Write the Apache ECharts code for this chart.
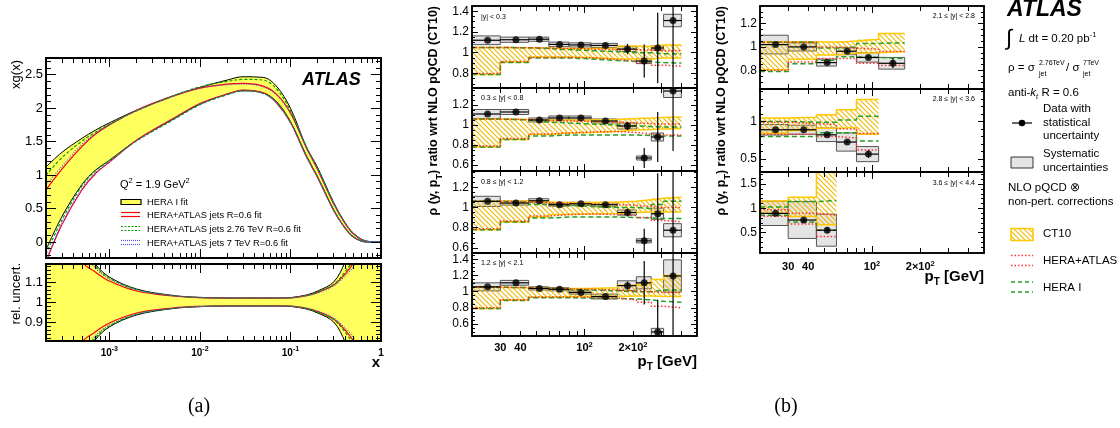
<!DOCTYPE html>
<html>
<head>
<meta charset="utf-8">
<title>ATLAS xg(x) and jet cross-section ratio</title>
<script src="https://cdn.jsdelivr.net/npm/echarts@6.0.0/dist/echarts.min.js"></script>
<style>
  html, body { margin: 0; padding: 0; background: #fff; }
  #chart { width: 1120px; height: 428px; }
</style>
</head>
<body>
<div id="chart"></div>
<script>
// ---------- (a) gluon density at Q2 = 1.9 GeV2 ----------
const xs      = [2e-4, 3e-4, 5e-4, 7e-4, 1e-3, 2e-3, 5e-3, 1e-2, 2e-2, 3e-2, 5e-2, 7e-2, 0.1, 0.15, 0.2, 0.3, 0.4, 0.5, 0.7, 1];
const heraUp  = [1.12, 1.34, 1.55, 1.67, 1.78, 1.97, 2.18, 2.31, 2.42, 2.47, 2.46, 2.33, 2.0, 1.42, 1.11, 0.59, 0.29, 0.12, 0.01, 0];
const heraLo  = [-0.12, 0.38, 0.86, 1.07, 1.22, 1.52, 1.83, 2.06, 2.21, 2.26, 2.23, 2.1, 1.8, 1.29, 0.97, 0.48, 0.21, 0.07, 0.0, 0];
const jetsUp  = [0.78, 1.09, 1.43, 1.61, 1.75, 1.97, 2.18, 2.30, 2.36, 2.37, 2.33, 2.21, 1.93, 1.41, 1.08, 0.57, 0.28, 0.12, 0.01, 0];
const jetsLo  = [-0.3, 0.26, 0.78, 1.02, 1.19, 1.52, 1.84, 2.07, 2.21, 2.27, 2.23, 2.08, 1.79, 1.28, 0.96, 0.47, 0.21, 0.07, 0.0, 0];
const j276Up  = [1.0, 1.26, 1.51, 1.64, 1.76, 1.96, 2.18, 2.32, 2.40, 2.43, 2.42, 2.29, 1.96, 1.42, 1.1, 0.58, 0.29, 0.12, 0.01, 0];
const j276Lo  = [-0.18, 0.33, 0.84, 1.06, 1.21, 1.51, 1.82, 2.05, 2.2, 2.26, 2.22, 2.09, 1.79, 1.28, 0.97, 0.48, 0.21, 0.07, 0, 0];
const j7Up    = [0.85, 1.13, 1.46, 1.62, 1.75, 1.96, 2.17, 2.30, 2.35, 2.36, 2.32, 2.2, 1.92, 1.41, 1.08, 0.57, 0.28, 0.12, 0.01, 0];
const j7Lo    = [-0.28, 0.28, 0.8, 1.03, 1.2, 1.52, 1.84, 2.06, 2.21, 2.27, 2.22, 2.08, 1.78, 1.27, 0.96, 0.47, 0.21, 0.07, 0, 0];
// relative uncertainties
const relHeraUp = [1.9, 1.55, 1.3, 1.19, 1.125, 1.065, 1.033, 1.023, 1.02, 1.02, 1.02, 1.02, 1.022, 1.035, 1.055, 1.1, 1.2, 1.35, 1.7, 2.0];
const relHeraLo = [0.1, 0.45, 0.7, 0.81, 0.875, 0.935, 0.967, 0.977, 0.98, 0.98, 0.98, 0.98, 0.978, 0.965, 0.945, 0.9, 0.8, 0.65, 0.3, 0.0];
const relJetsUp = [1.7, 1.4, 1.2, 1.15, 1.105, 1.055, 1.03, 1.022, 1.02, 1.02, 1.02, 1.02, 1.021, 1.032, 1.048, 1.085, 1.14, 1.2, 1.4, 1.6];
const relJetsLo = [0.3, 0.6, 0.8, 0.85, 0.895, 0.945, 0.97, 0.978, 0.98, 0.98, 0.98, 0.98, 0.979, 0.968, 0.952, 0.915, 0.86, 0.8, 0.6, 0.4];
const rel276Up  = [1.85, 1.52, 1.28, 1.18, 1.12, 1.062, 1.032, 1.023, 1.02, 1.02, 1.02, 1.02, 1.021, 1.033, 1.05, 1.088, 1.15, 1.22, 1.45, 1.7];
const rel276Lo  = [0.15, 0.48, 0.72, 0.82, 0.88, 0.938, 0.968, 0.977, 0.98, 0.98, 0.98, 0.98, 0.979, 0.967, 0.95, 0.912, 0.85, 0.78, 0.55, 0.3];
const rel7Up    = [1.8, 1.48, 1.25, 1.17, 1.115, 1.06, 1.031, 1.022, 1.02, 1.02, 1.02, 1.02, 1.021, 1.03, 1.045, 1.08, 1.13, 1.18, 1.35, 1.55];
const rel7Lo    = [0.2, 0.52, 0.75, 0.83, 0.885, 0.94, 0.969, 0.978, 0.98, 0.98, 0.98, 0.98, 0.979, 0.97, 0.955, 0.92, 0.87, 0.82, 0.65, 0.45];

// ---------- (b) ratio 2.76 TeV / 7 TeV ----------
const ptEdges   = [20, 30, 45, 60, 80, 110, 160, 210, 260, 310, 400];
const ptCenters = [25, 37.5, 52.5, 70, 95, 135, 185, 235, 285, 355];

// |y| < 0.3
const m1Val  = [1.12, 1.125, 1.13, 1.08, 1.075, 1.07, 1.035, 0.92, 1.045, 1.31];
const m1Stat = [0.006, 0.006, 0.006, 0.006, 0.007, 0.01, 0.05, 0.16, 0.34, 0.7];
const m1Syst = [0.042, 0.025, 0.02, 0.022, 0.02, 0.02, 0.024, 0.025, 0.02, 0.06];
const m1CtUp = [1.05, 1.048, 1.045, 1.04, 1.04, 1.045, 1.065, 1.06, 1.075, 1.075];
const m1CtLo = [0.79, 0.91, 0.958, 0.958, 0.955, 0.94, 0.94, 0.94, 0.95, 0.95];
const m1HaUp = [1.05, 1.048, 1.045, 1.04, 1.035, 1.03, 1.03, 1.025, 1.02, 1.02];
const m1HaLo = [0.80, 0.915, 0.955, 0.955, 0.95, 0.935, 0.92, 0.9, 0.88, 0.87];
const m1H1Up = [1.05, 1.048, 1.04, 1.03, 1.02, 1.01, 1.0, 1.0, 0.99, 0.99];
const m1H1Lo = [0.79, 0.905, 0.95, 0.95, 0.94, 0.925, 0.915, 0.91, 0.905, 0.90];
// 0.3 <= |y| < 0.8
const m2Val  = [1.11, 1.13, 1.05, 1.07, 1.07, 1.04, 0.99, 0.67, 0.88, 1.34];
const m2Stat = [0.006, 0.006, 0.006, 0.006, 0.007, 0.01, 0.04, 0.1, 0.25, 0.6];
const m2Syst = [0.045, 0.025, 0.02, 0.02, 0.02, 0.02, 0.03, 0.02, 0.04, 0.065];
const m2CtUp = [1.06, 1.055, 1.05, 1.05, 1.05, 1.055, 1.065, 1.07, 1.075, 1.08];
const m2CtLo = [0.78, 0.855, 0.905, 0.92, 0.925, 0.935, 0.95, 0.955, 0.96, 0.965];
const m2HaUp = [1.06, 1.055, 1.045, 1.04, 1.035, 1.03, 1.02, 1.015, 1.01, 1.01];
const m2HaLo = [0.79, 0.865, 0.91, 0.92, 0.93, 0.935, 0.925, 0.91, 0.9, 0.9];
const m2H1Up = [1.06, 1.05, 1.03, 1.02, 1.01, 1.0, 0.99, 0.985, 0.98, 0.98];
const m2H1Lo = [0.78, 0.855, 0.89, 0.9, 0.9, 0.9, 0.9, 0.895, 0.89, 0.89];
// 0.8 <= |y| < 1.2
const m3Val  = [1.06, 1.043, 1.066, 1.027, 1.036, 1.027, 0.95, 0.67, 0.938, 0.775];
const m3Stat = [0.006, 0.006, 0.006, 0.006, 0.007, 0.01, 0.04, 0.12, 0.4, 0.8];
const m3Syst = [0.05, 0.02, 0.02, 0.015, 0.015, 0.02, 0.025, 0.02, 0.055, 0.065];
const m3CtUp = [1.06, 1.06, 1.055, 1.05, 1.05, 1.055, 1.06, 1.075, 1.09, 1.10];
const m3CtLo = [0.78, 0.855, 0.905, 0.93, 0.935, 0.94, 0.95, 0.955, 0.955, 0.955];
const m3HaUp = [1.06, 1.055, 1.045, 1.04, 1.035, 1.03, 1.02, 1.01, 1.0, 1.0];
const m3HaLo = [0.79, 0.865, 0.915, 0.93, 0.935, 0.93, 0.92, 0.9, 0.87, 0.86];
const m3H1Up = [1.06, 1.05, 1.03, 1.02, 1.01, 1.0, 1.0, 0.99, 1.03, 1.06];
const m3H1Lo = [0.78, 0.855, 0.895, 0.905, 0.905, 0.905, 0.90, 0.895, 0.89, 0.89];
// 1.2 <= |y| < 2.1
const m4Val  = [1.06, 1.11, 1.04, 1.03, 0.99, 0.94, 1.075, 1.11, 0.5, 1.195];
const m4Stat = [0.006, 0.006, 0.006, 0.006, 0.007, 0.01, 0.05, 0.27, 0.4, 1.0];
const m4Syst = [0.05, 0.03, 0.02, 0.02, 0.02, 0.03, 0.06, 0.075, 0.045, 0.2];
const m4CtUp = [1.055, 1.05, 1.04, 1.04, 1.04, 1.05, 1.08, 1.1, 1.15, 1.2];
const m4CtLo = [0.79, 0.895, 0.93, 0.94, 0.94, 0.94, 0.945, 0.945, 0.94, 0.94];
const m4HaUp = [1.055, 1.05, 1.04, 1.035, 1.03, 1.02, 1.01, 1.0, 0.99, 0.99];
const m4HaLo = [0.8, 0.9, 0.935, 0.935, 0.93, 0.92, 0.9, 0.87, 0.82, 0.8];
const m4H1Up = [1.055, 1.05, 1.04, 1.03, 1.02, 1.01, 1.0, 1.0, 1.02, 1.02];
const m4H1Lo = [0.79, 0.89, 0.925, 0.925, 0.92, 0.915, 0.91, 0.9, 0.88, 0.87];
// 2.1 <= |y| < 2.8
const r1Val  = [1.02, 1.0, 0.866, 0.963, 0.91, 0.86];
const r1Stat = [0.006, 0.006, 0.01, 0.01, 0.015, 0.04];
const r1Syst = [0.08, 0.035, 0.03, 0.03, 0.04, 0.05];
const r1CtUp = [1.045, 1.045, 1.04, 1.05, 1.065, 1.115];
const r1CtLo = [0.805, 0.895, 0.93, 0.945, 0.95, 0.96];
const r1HaUp = [1.04, 1.04, 1.0, 0.99, 0.98, 0.96];
const r1HaLo = [0.80, 0.87, 0.9, 0.9, 0.86, 0.84];
const r1H1Up = [1.04, 1.04, 0.99, 1.0, 1.03, 1.035];
const r1H1Lo = [0.79, 0.855, 0.885, 0.915, 0.91, 0.9];
// 2.8 <= |y| < 3.6
const r2Val  = [0.89, 0.89, 0.823, 0.727, 0.567];
const r2Stat = [0.01, 0.01, 0.015, 0.02, 0.05];
const r2Syst = [0.07, 0.06, 0.09, 0.12, 0.1];
const r2CtUp = [1.045, 1.055, 1.09, 1.155, 1.29];
const r2CtLo = [0.845, 0.88, 0.91, 0.92, 0.83];
const r2HaUp = [0.99, 0.97, 0.96, 0.9, 0.84];
const r2HaLo = [0.83, 0.83, 0.8, 0.78, 0.62];
const r2H1Up = [1.0, 0.99, 0.99, 1.02, 1.07];
const r2H1Lo = [0.8, 0.8, 0.85, 0.85, 0.74];
// 3.6 <= |y| < 4.4
const r3Val  = [0.897, 0.76, 0.55];
const r3Stat = [0.02, 0.03, 0.06];
const r3Syst = [0.25, 0.38, 0.33];
const r3CtUp = [1.15, 1.23, 1.9];
const r3CtLo = [0.9, 0.83, 0.66];
const r3HaUp = [0.97, 0.9, 0.86];
const r3HaLo = [0.84, 0.68, 0.42];
const r3H1Up = [1.03, 1.14, 1.16];
const r3H1Lo = [0.86, 0.72, 0.55];

// tick labels
const aXLabels = [1e-3, 1e-2, 0.1, 1];
const bXLabels = [30, 40, 100, 200];
const bXNames  = {30: '30', 40: '40', 100: '10{s|2}', 200: '2×10{s|2}'};

// ---------- helpers ----------
const FONT = '"Liberation Sans", Arial, Helvetica, sans-serif';
const SM = 0.35;

function ticksBetween(a, b, step) {
  const t = [];
  for (let v = a; v <= b + 1e-9; v += step) t.push(+v.toFixed(4));
  return t;
}
function logMinors(d0, d1) {
  const t = [];
  for (let d = d0; d < d1; d++) for (let k = 2; k <= 9; k++) t.push(+(k * Math.pow(10, d)).toPrecision(3));
  return t;
}

function makeHatch() {
  const c = document.createElement('canvas');
  c.width = 5; c.height = 5;
  const g = c.getContext('2d');
  g.strokeStyle = '#f0b800';
  g.lineWidth = 1.1;
  g.beginPath();
  g.moveTo(0, 0); g.lineTo(5, 5);
  g.moveTo(-2.5, 2.5); g.lineTo(2.5, 7.5);
  g.moveTo(2.5, -2.5); g.lineTo(7.5, 2.5);
  g.stroke();
  return c;
}
const hatchFill = {image: makeHatch(), repeat: 'repeat'};

const grids = [
  {left: 46, top: 58, width: 335, height: 200},
  {left: 46, top: 264, width: 335, height: 77},
  {left: 472, top: 6, width: 225, height: 82},
  {left: 472, top: 88, width: 225, height: 83},
  {left: 472, top: 171, width: 225, height: 82},
  {left: 472, top: 253, width: 225, height: 83},
  {left: 760, top: 6, width: 224, height: 83},
  {left: 760, top: 89, width: 224, height: 83},
  {left: 760, top: 172, width: 224, height: 81}
].map(g => Object.assign({containLabel: false, outerBoundsMode: 'none'}, g));

const xAxes = [], yAxes = [], series = [];

function axis(list, g, c, pos, ticks, len, withLabels) {
  const a = {
    gridIndex: g, type: c.type, min: c.min, max: c.max, position: pos, z: 10,
    axisLine: {show: true, onZero: false, lineStyle: {color: '#000', width: c.frame || 1.5}},
    splitLine: {show: false},
    axisTick: {show: ticks.length > 0, inside: true, length: len, customValues: ticks,
               lineStyle: {color: '#000', width: 1}},
    axisLabel: {show: false}
  };
  if (c.type === 'log') a.logBase = 10;
  if (withLabels && c.labels) {
    a.axisLabel = Object.assign({show: true, customValues: c.labels, color: '#000', fontFamily: FONT}, c.labelStyle);
  }
  list.push(a);
  return list.length - 1;
}

function panel(g, xc, yc) {
  const xi = axis(xAxes, g, xc, 'bottom', xc.major, xc.majorLen, true);
  axis(xAxes, g, xc, 'bottom', xc.minor, xc.minorLen, false);
  axis(xAxes, g, xc, 'top', xc.major, xc.majorLen, false);
  axis(xAxes, g, xc, 'top', xc.minor, xc.minorLen, false);
  const yi = axis(yAxes, g, yc, 'left', yc.major, yc.majorLen, true);
  axis(yAxes, g, yc, 'left', yc.minor, yc.minorLen, false);
  axis(yAxes, g, yc, 'right', yc.major, yc.majorLen, false);
  axis(yAxes, g, yc, 'right', yc.minor, yc.minorLen, false);
  return {xi, yi, ymin: yc.min, ymax: yc.max};
}

// ---------- axes ----------
const xA = {type: 'log', min: 2e-4, max: 1, major: [1e-3, 1e-2, 0.1], minor: logMinors(-4, 0).filter(v => v > 2e-4),
            majorLen: 9, minorLen: 5, frame: 1.8};
const xAlab = Object.assign({}, xA, {
  labels: aXLabels,
  labelStyle: {
    fontSize: 10, fontWeight: 'bold', margin: 5, lineHeight: 14,
    formatter: v => v > 0.99 ? '1' : '10{s|' + Math.round(Math.log10(v)) + '}',
    rich: {s: {fontSize: 7, fontWeight: 'bold', fontFamily: FONT, verticalAlign: 'top', lineHeight: 8}}
  }
});
const xB = {type: 'log', min: 20, max: 500, major: [100], minor: [30, 40, 50, 60, 70, 80, 90, 200, 300, 400],
            majorLen: 7, minorLen: 5};
function xBlab(margin) {
  return Object.assign({}, xB, {
    labels: bXLabels,
    labelStyle: {
      fontSize: 11, fontWeight: 'bold', margin: margin, lineHeight: 14,
      formatter: v => bXNames[Math.round(v)],
      rich: {s: {fontSize: 7.5, fontWeight: 'bold', fontFamily: FONT, verticalAlign: 'top', lineHeight: 8}}
    }
  });
}
function yc(min, max, major, step, mLen, nLen, fs, frame) {
  return {type: 'value', min, max, major, minor: ticksBetween(Math.ceil(min / step) * step, max, step),
          majorLen: mLen, minorLen: nLen, labels: major, frame: frame,
          labelStyle: {fontSize: fs, margin: 3}};
}

const PA = panel(0, xA, yc(-0.24, 2.75, [0, 0.5, 1, 1.5, 2, 2.5], 0.1, 10, 5, 13, 1.8));
const PB = panel(1, xAlab, yc(0.805, 1.19, [0.9, 1, 1.1], 0.02, 10, 5, 13, 1.8));
const M1 = panel(2, xB, yc(0.66, 1.45, [0.8, 1, 1.2, 1.4], 0.05, 6, 3, 12));
const M2 = panel(3, xB, yc(0.54, 1.37, [0.6, 0.8, 1, 1.2], 0.05, 6, 3, 12));
const M3 = panel(4, xB, yc(0.55, 1.36, [0.6, 0.8, 1, 1.2], 0.05, 6, 3, 12));
const M4 = panel(5, xBlab(5), yc(0.45, 1.48, [0.6, 0.8, 1, 1.2, 1.4], 0.05, 6, 3, 12));
const R1 = panel(6, xB, yc(0.64, 1.35, [0.8, 1, 1.2], 0.05, 6, 3, 12));
const R2 = panel(7, xB, yc(0.33, 1.43, [0.5, 1], 0.1, 6, 3, 12));
const R3 = panel(8, xBlab(7), yc(0.08, 1.75, [0.5, 1, 1.5], 0.1, 6, 3, 12));

// ---------- (a) series ----------
// yellow band: fill below the upper edge, then blank out below the lower edge
function fillTo(p, ys, color, z) {
  series.push({type: 'line', xAxisIndex: p.xi, yAxisIndex: p.yi,
    data: xs.map((x, i) => [x, ys[i]]), symbol: 'none', smooth: SM, silent: true,
    lineStyle: {opacity: 0}, areaStyle: {color: color, opacity: 1, origin: 'start'}, z: z});
}
function curve(p, ys, color, width, dash, z) {
  series.push({type: 'line', xAxisIndex: p.xi, yAxisIndex: p.yi,
    data: xs.map((x, i) => [x, ys[i]]), symbol: 'none', smooth: SM, silent: true,
    lineStyle: {color: color, width: width, type: dash}, z: z});
}
function pdfPanel(p, hu, hl, ju, jl, gu, gl, bu, bl) {
  fillTo(p, hu, '#ffff5e', 1);
  fillTo(p, hl, '#ffffff', 2);
  curve(p, hu, '#000', 1, 'solid', 3);
  curve(p, hl, '#000', 1, 'solid', 3);
  curve(p, ju, '#ff0000', 1.2, 'solid', 4);
  curve(p, jl, '#ff0000', 1.2, 'solid', 4);
  curve(p, gu, '#00a000', 1.2, [3, 2], 5);
  curve(p, gl, '#00a000', 1.2, [3, 2], 5);
  curve(p, bu, '#5050ff', 1.2, [1, 1.5], 6);
  curve(p, bl, '#5050ff', 1.2, [1, 1.5], 6);
}
pdfPanel(PA, heraUp, heraLo, jetsUp, jetsLo, j276Up, j276Lo, j7Up, j7Lo);
pdfPanel(PB, relHeraUp, relHeraLo, relJetsUp, relJetsLo, rel276Up, rel276Lo, rel7Up, rel7Lo);

// ---------- (b) series ----------
function clampTo(p) { return v => Math.max(p.ymin, Math.min(p.ymax, v)); }
function rectItem(p, style) {
  const cl = clampTo(p);
  return function (params, api) {
    const a = api.coord([api.value(0), cl(api.value(3))]);
    const b = api.coord([api.value(1), cl(api.value(2))]);
    return {type: 'rect', shape: {x: a[0], y: a[1], width: b[0] - a[0], height: b[1] - a[1]}, style: style};
  };
}
function errItem(p) {
  const cl = clampTo(p);
  return function (params, api) {
    const x = api.value(0), v = api.value(1), s = api.value(2);
    const h0 = api.coord([api.value(3), v]), h1 = api.coord([api.value(4), v]);
    const v0 = api.coord([x, cl(v - s)]), v1 = api.coord([x, cl(v + s)]);
    return {type: 'group', children: [
      {type: 'line', shape: {x1: h0[0], y1: h0[1], x2: h1[0], y2: h1[1]}, style: {stroke: '#000', lineWidth: 1.2}},
      {type: 'line', shape: {x1: v0[0], y1: v0[1], x2: v1[0], y2: v1[1]}, style: {stroke: '#000', lineWidth: 1.2}}
    ]};
  };
}
function stepLine(p, e, vals, color, width, dash, z) {
  const d = vals.map((v, i) => [e[i], v]);
  d.push([e[vals.length], vals[vals.length - 1]]);
  series.push({type: 'line', xAxisIndex: p.xi, yAxisIndex: p.yi, data: d, step: 'end', symbol: 'none',
    silent: true, lineStyle: {color: color, width: width, type: dash}, z: z});
}
function ratioRow(p, val, stat, syst, ctUp, ctLo, haUp, haLo, h1Up, h1Lo) {
  const n = val.length;
  const e = ptEdges.slice(0, n + 1), c = ptCenters.slice(0, n);
  series.push({type: 'custom', xAxisIndex: p.xi, yAxisIndex: p.yi, silent: true, z: 2,
    data: val.map((v, i) => [e[i], e[i + 1], v - syst[i], v + syst[i]]),
    renderItem: rectItem(p, {fill: '#e4e4e4', stroke: '#555', lineWidth: 1})});
  series.push({type: 'custom', xAxisIndex: p.xi, yAxisIndex: p.yi, silent: true, z: 3,
    data: ctUp.map((u, i) => [e[i], e[i + 1], ctLo[i], u]),
    renderItem: rectItem(p, {fill: hatchFill})});
  stepLine(p, e, ctUp, '#ffc800', 1.5, 'solid', 4);
  stepLine(p, e, ctLo, '#ffc800', 1.5, 'solid', 4);
  stepLine(p, e, h1Up, '#22a022', 1.5, [5, 3], 5);
  stepLine(p, e, h1Lo, '#22a022', 1.5, [5, 3], 5);
  stepLine(p, e, haUp, '#ff3030', 1.5, [1.5, 2], 5);
  stepLine(p, e, haLo, '#ff3030', 1.5, [1.5, 2], 5);
  series.push({type: 'custom', xAxisIndex: p.xi, yAxisIndex: p.yi, silent: true, z: 6,
    data: val.map((v, i) => [c[i], v, stat[i], e[i], e[i + 1]]), renderItem: errItem(p)});
  series.push({type: 'scatter', xAxisIndex: p.xi, yAxisIndex: p.yi, silent: true, z: 7,
    data: val.map((v, i) => [c[i], v]), symbolSize: 7, itemStyle: {color: '#000'}});
}
ratioRow(M1, m1Val, m1Stat, m1Syst, m1CtUp, m1CtLo, m1HaUp, m1HaLo, m1H1Up, m1H1Lo);
ratioRow(M2, m2Val, m2Stat, m2Syst, m2CtUp, m2CtLo, m2HaUp, m2HaLo, m2H1Up, m2H1Lo);
ratioRow(M3, m3Val, m3Stat, m3Syst, m3CtUp, m3CtLo, m3HaUp, m3HaLo, m3H1Up, m3H1Lo);
ratioRow(M4, m4Val, m4Stat, m4Syst, m4CtUp, m4CtLo, m4HaUp, m4HaLo, m4H1Up, m4H1Lo);
ratioRow(R1, r1Val, r1Stat, r1Syst, r1CtUp, r1CtLo, r1HaUp, r1HaLo, r1H1Up, r1H1Lo);
ratioRow(R2, r2Val, r2Stat, r2Syst, r2CtUp, r2CtLo, r2HaUp, r2HaLo, r2H1Up, r2H1Lo);
ratioRow(R3, r3Val, r3Stat, r3Syst, r3CtUp, r3CtLo, r3HaUp, r3HaLo, r3H1Up, r3H1Lo);

// ---------- texts and legends ----------
function txt(x, y, text, font, opt) {
  return Object.assign({type: 'text', x: x, y: y, z: 100,
    style: Object.assign({text: text, font: font, fill: '#000', align: 'left', verticalAlign: 'middle'}, opt || {})});
}
function seg(x1, y1, x2, y2, stroke, width, dash) {
  return {type: 'line', z: 100, shape: {x1, y1, x2, y2}, style: {stroke, lineWidth: width, lineDash: dash || null}};
}
const f = (s, w) => (w || '') + ' ' + s + 'px ' + FONT;
const LF = 11.5;
const supRich = {
  n: {font: f(LF), lineHeight: 16},
  s: {font: f(7.5), lineHeight: 8, verticalAlign: 'top'},
  i: {font: 'italic ' + f(LF), lineHeight: 16},
  t: {font: 'italic ' + f(7.5), lineHeight: 8, verticalAlign: 'bottom'}
};
const titleRich = {
  n: {font: f(12.5, 'bold'), lineHeight: 20},
  t: {font: f(9, 'bold'), lineHeight: 9, verticalAlign: 'bottom'}
};
const yTitle = '{n|ρ (y, p}{t|T}{n|) ratio wrt NLO pQCD (CT10)}';
const ptTitle = {
  n: {font: f(15, 'bold'), lineHeight: 20},
  t: {font: f(10, 'bold'), lineHeight: 10, verticalAlign: 'bottom'}
};
const q2Rich = {
  n: {font: f(11), lineHeight: 16},
  s: {font: f(7.5), lineHeight: 8, verticalAlign: 'top'}
};

const graphic = [
  // (a)
  txt(302, 80, 'ATLAS', 'italic bold 18px ' + FONT),
  txt(120, 185, '{n|Q}{s|2}{n| = 1.9 GeV}{s|2}', f(11), {rich: q2Rich}),
  {type: 'rect', z: 100, shape: {x: 121, y: 199.5, width: 20, height: 5}, style: {fill: '#ffff5e', stroke: '#000', lineWidth: 1.2}},
  seg(121, 212.5, 140, 212.5, '#ff0000', 1.2), seg(121, 216.5, 140, 216.5, '#ff0000', 1.2),
  seg(121, 226.5, 140, 226.5, '#00a000', 1.2, [2, 1.5]), seg(121, 230.5, 140, 230.5, '#00a000', 1.2, [2, 1.5]),
  seg(121, 240.5, 140, 240.5, '#5050ff', 1.2, [1, 1]), seg(121, 244.5, 140, 244.5, '#5050ff', 1.2, [1, 1]),
  txt(147, 202, 'HERA I fit', f(9.3)),
  txt(147, 215, 'HERA+ATLAS jets R=0.6 fit', f(9.3)),
  txt(147, 229, 'HERA+ATLAS jets 2.76 TeV R=0.6 fit', f(9.3)),
  txt(147, 243, 'HERA+ATLAS jets 7 TeV R=0.6 fit', f(9.3)),
  Object.assign(txt(0, 0, 'xg(x)', f(13), {align: 'right'}), {x: 16, y: 60, rotation: Math.PI / 2}),
  Object.assign(txt(0, 0, 'rel. uncert.', f(13), {align: 'right'}), {x: 16, y: 263, rotation: Math.PI / 2}),
  txt(376, 363, 'x', f(15, 'bold'), {align: 'center'}),
  txt(199, 407, '(a)', '20px "Liberation Serif", "Times New Roman", serif', {align: 'center'}),
  txt(786, 407, '(b)', '20px "Liberation Serif", "Times New Roman", serif', {align: 'center'}),
  // (b) axis titles
  Object.assign(txt(0, 0, yTitle, f(12.5, 'bold'), {align: 'right', rich: titleRich}), {x: 434, y: 6, rotation: Math.PI / 2}),
  Object.assign(txt(0, 0, yTitle, f(12.5, 'bold'), {align: 'right', rich: titleRich}), {x: 722, y: 6, rotation: Math.PI / 2}),
  txt(697, 362, '{n|p}{t|T}{n| [GeV]}', f(15, 'bold'), {align: 'right', rich: ptTitle}),
  txt(984, 277, '{n|p}{t|T}{n| [GeV]}', f(15, 'bold'), {align: 'right', rich: ptTitle}),
  // rapidity bins
  txt(481, 17, '|y| < 0.3', f(7)),
  txt(481, 98, '0.3 ≤ |y| < 0.8', f(7)),
  txt(481, 182, '0.8 ≤ |y| < 1.2', f(7)),
  txt(481, 263, '1.2 ≤ |y| < 2.1', f(7)),
  txt(975, 16, '2.1 ≤ |y| < 2.8', f(7), {align: 'right'}),
  txt(975, 99, '2.8 ≤ |y| < 3.6', f(7), {align: 'right'}),
  txt(975, 183, '3.6 ≤ |y| < 4.4', f(7), {align: 'right'}),
  // (b) legend
  txt(1007, 10, 'ATLAS', 'italic bold 23px ' + FONT),
  txt(1006, 39, '∫', f(22)),
  txt(1019, 39, '{i|L}{n| dt = 0.20 pb}{s|-1}', f(LF), {rich: supRich}),
  txt(1008, 68, 'ρ = σ', f(LF)),
  txt(1039, 63, '2.76TeV', f(7)),
  txt(1039, 74, 'jet', f(7)),
  txt(1066, 68, '/ σ', f(LF)),
  txt(1083, 63, '7TeV', f(7)),
  txt(1083, 74, 'jet', f(7)),
  txt(1008, 93, '{n|anti-}{i|k}{t|t}{n| R = 0.6}', f(LF), {rich: supRich}),
  seg(1012, 123, 1032, 123, '#000', 1.2),
  {type: 'circle', z: 100, shape: {cx: 1022, cy: 123, r: 3.3}, style: {fill: '#000'}},
  txt(1043, 109, 'Data with', f(LF)),
  txt(1043, 123, 'statistical', f(LF)),
  txt(1043, 136, 'uncertainty', f(LF)),
  {type: 'rect', z: 100, shape: {x: 1011, y: 157, width: 22, height: 11}, style: {fill: '#e4e4e4', stroke: '#333', lineWidth: 1}},
  txt(1043, 154, 'Systematic', f(LF)),
  txt(1043, 168, 'uncertainties', f(LF)),
  txt(1008, 188, 'NLO pQCD ⊗', f(LF)),
  txt(1008, 202, 'non-pert. corrections', f(LF)),
  {type: 'rect', z: 100, shape: {x: 1011, y: 228.5, width: 22, height: 12}, style: {fill: hatchFill, stroke: '#ffc800', lineWidth: 1.6}},
  txt(1043, 234, 'CT10', f(LF)),
  seg(1011, 255.5, 1033, 255.5, '#ff3030', 1.3, [1.5, 2]),
  seg(1011, 265.5, 1033, 265.5, '#ff3030', 1.3, [1.5, 2]),
  txt(1043, 261, 'HERA+ATLAS', f(LF)),
  seg(1011, 282, 1033, 282, '#22a022', 1.5, [4, 3]),
  seg(1011, 292, 1033, 292, '#22a022', 1.5, [4, 3]),
  txt(1043, 288, 'HERA I', f(LF))
];

const chart = echarts.init(document.getElementById('chart'));
chart.setOption({
  animation: false,
  backgroundColor: '#fff',
  textStyle: {fontFamily: FONT},
  grid: grids,
  xAxis: xAxes,
  yAxis: yAxes,
  series: series,
  graphic: graphic
});
</script>
</body>
</html>
